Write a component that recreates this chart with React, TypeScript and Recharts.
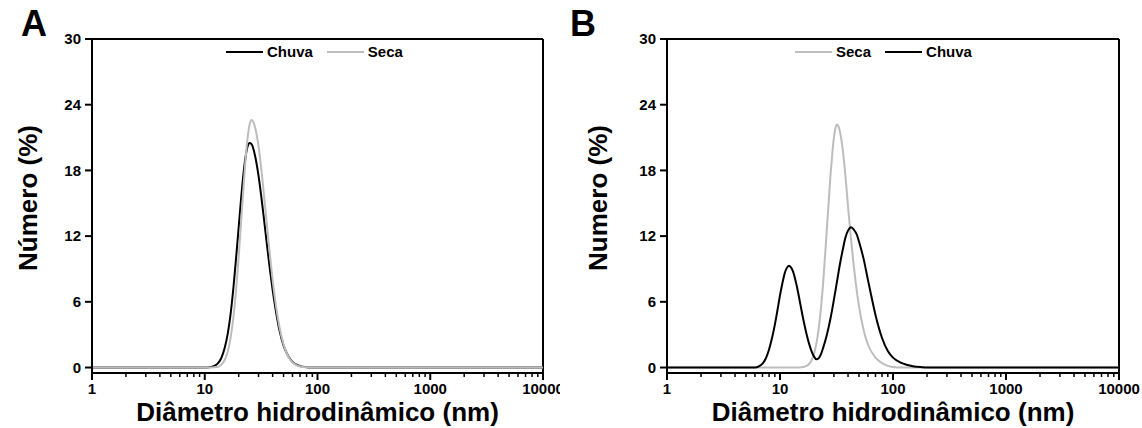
import React from "react"
import { LineChart, Line, XAxis, YAxis, ReferenceLine } from "recharts"

// hydrodynamic diameter (nm) and number distribution (%)
const aChuvaX = [1, 10, 11, 12, 12.5, 13, 14, 15, 16, 17, 18, 19, 20, 21, 22, 23, 24, 25, 26, 28, 30, 32, 34, 36, 38, 40, 43, 46, 50, 55, 60, 70, 80, 90, 100, 1000, 10000]
const aChuvaY = [0, 0, 0.02, 0.13, 0.22, 0.36, 0.85, 1.75, 3.1, 5.0, 7.4, 10.1, 12.8, 15.4, 17.6, 19.2, 20.2, 20.5, 20.4, 19.3, 17.5, 15.3, 13.0, 10.8, 8.8, 7.1, 5.0, 3.4, 2.0, 1.05, 0.5, 0.13, 0.03, 0, 0, 0, 0]

const aSecaX = [1, 10, 13, 14, 15, 16, 17, 18, 19, 20, 21, 22, 23, 24, 25, 26, 27, 28, 30, 32, 34, 36, 38, 40, 43, 46, 50, 55, 60, 70, 80, 90, 100, 1000, 10000]
const aSecaY = [0, 0, 0.05, 0.26, 0.66, 1.46, 2.8, 4.7, 7.2, 10.1, 13.3, 16.3, 19.0, 21.0, 22.2, 22.6, 22.4, 21.9, 20.2, 17.8, 15.1, 12.5, 10.1, 8.0, 5.5, 3.7, 2.1, 1.0, 0.46, 0.1, 0.02, 0, 0, 0, 0]

const bSecaX = [1, 10, 15, 16, 17, 18, 19, 20, 21, 22, 23, 24, 25, 26, 27, 28, 29, 30, 31, 32, 33, 34, 36, 38, 40, 42, 44, 47, 50, 55, 60, 70, 80, 90, 100, 120, 1000, 10000]
const bSecaY = [0, 0, 0, 0.04, 0.12, 0.3, 0.64, 1.25, 2.2, 3.55, 5.35, 7.5, 10.1, 12.7, 15.2, 17.6, 19.5, 21.0, 21.9, 22.2, 22.0, 21.5, 19.8, 17.4, 14.7, 12.3, 10.2, 7.6, 5.6, 3.4, 2.1, 0.9, 0.4, 0.15, 0.05, 0, 0, 0]

const bChuvaX = [1, 6, 6.5, 7, 7.5, 8, 8.5, 9, 9.5, 10, 10.5, 11, 11.5, 12, 12.5, 13, 14, 15, 16, 17, 18, 19, 20, 21, 22, 23, 24, 26, 28, 30, 32, 34, 36, 38, 40, 42.5, 45, 48, 50, 55, 60, 65, 70, 80, 90, 100, 120, 150, 180, 200, 1000, 10000]
const bChuvaY = [0, 0, 0.1, 0.35, 0.85, 1.65, 2.7, 3.9, 5.25, 6.6, 7.7, 8.6, 9.1, 9.3, 9.15, 8.8, 7.55, 6.0, 4.5, 3.25, 2.25, 1.5, 1.0, 0.75, 0.85, 1.2, 1.75, 3.0, 4.5, 6.2, 7.9, 9.5, 10.8, 11.9, 12.5, 12.8, 12.6, 12.1, 11.5, 9.9, 8.0, 6.3, 4.8, 2.7, 1.5, 0.9, 0.4, 0.12, 0.03, 0, 0, 0]

const majorTicks = [1, 10, 100, 1000, 10000]
const minorFactors = [2, 3, 4, 5, 6, 7, 8, 9]
const yTicks = [0, 6, 12, 18, 24, 30]

const xTicks = majorTicks.flatMap((m) => (m === 10000 ? [m] : [m, ...minorFactors.map((f) => m * f)]))

const zip = (xs: number[], ys: number[]) => xs.map((x, i) => ({ x, y: ys[i] }))

const BLACK = "#000000"
const GRAY = "#bdbdbd"
const FONT = "'Liberation Sans', Arial, sans-serif"

type Series = { name: string; color: string; data: { x: number; y: number }[] }

const XTick = (props: any) => {
    const { x, y, payload } = props
    const major = majorTicks.includes(payload.value)
    return (
        <g>
            <line x1={x} x2={x} y1={y} y2={y + (major ? 7 : 4)} stroke="#000" strokeWidth={major ? 2 : 1.5} />
            {major && (
                <text x={x} y={y + 21} textAnchor="middle" fontSize={15} fontWeight="bold" fontFamily={FONT} fill="#000">
                    {payload.value}
                </text>
            )}
        </g>
    )
}

function Panel(props: {
    left: number
    width: number
    yAxisWidth: number
    marginRight: number
    letter: string
    letterLeft: number
    yTitle: string
    yTitleX: number
    legendLeft: number
    series: Series[]
}) {
    const { left, width, yAxisWidth, marginRight, series } = props
    const plotLeft = yAxisWidth
    const plotRight = width - marginRight
    return (
        <div style={{ position: "absolute", left, top: 0, width, height: 428 }}>
            <LineChart width={width} height={428} margin={{ top: 39, right: marginRight, bottom: 0, left: 0 }}>
                <XAxis
                    dataKey="x"
                    type="number"
                    scale="log"
                    domain={[1, 10000]}
                    allowDataOverflow
                    ticks={xTicks}
                    interval={0}
                    height={55}
                    tickSize={0}
                    tickMargin={0}
                    tickLine={false}
                    axisLine={{ stroke: "#000", strokeWidth: 2 }}
                    tick={XTick}
                />
                <YAxis
                    type="number"
                    domain={[-0.5, 30]}
                    allowDataOverflow
                    ticks={yTicks}
                    interval={0}
                    width={yAxisWidth}
                    tickSize={7}
                    tickMargin={4}
                    tickLine={{ stroke: "#000", strokeWidth: 2 }}
                    axisLine={{ stroke: "#000", strokeWidth: 2 }}
                    tick={{ fill: "#000", fontSize: 15, fontWeight: "bold", fontFamily: FONT }}
                />
                <ReferenceLine y={30} stroke="#000" strokeWidth={2} />
                <ReferenceLine x={10000} stroke="#000" strokeWidth={2} />
                {series.map((s) => (
                    <Line
                        key={s.name}
                        data={s.data}
                        dataKey="y"
                        name={s.name}
                        type="monotone"
                        stroke={s.color}
                        strokeWidth={2}
                        dot={false}
                        activeDot={false}
                        isAnimationActive={false}
                    />
                ))}
            </LineChart>

            {/* panel letter */}
            <div style={{ position: "absolute", left: props.letterLeft, top: 4, fontFamily: FONT, fontWeight: "bold", fontSize: 36, lineHeight: "40px" }}>
                {props.letter}
            </div>

            {/* legend */}
            <div style={{ position: "absolute", left: props.legendLeft, top: 43, display: "flex", alignItems: "center", fontFamily: FONT, fontWeight: "bold", fontSize: 15, lineHeight: "18px" }}>
                {series.map((s) => (
                    <div key={s.name} style={{ display: "flex", alignItems: "center", marginRight: 14 }}>
                        <span style={{ display: "inline-block", width: 37, height: 2, background: s.color, marginRight: 4 }} />
                        <span>{s.name}</span>
                    </div>
                ))}
            </div>

            {/* y title */}
            <div
                style={{
                    position: "absolute",
                    left: props.yTitleX,
                    top: 198,
                    transform: "translate(-50%, -50%) rotate(-90deg)",
                    whiteSpace: "nowrap",
                    fontFamily: FONT,
                    fontWeight: "bold",
                    fontSize: 26,
                    lineHeight: "28px",
                }}
            >
                {props.yTitle}
            </div>

            {/* x title */}
            <div
                style={{
                    position: "absolute",
                    left: (plotLeft + plotRight) / 2,
                    top: 412,
                    transform: "translate(-50%, -50%)",
                    whiteSpace: "nowrap",
                    fontFamily: FONT,
                    fontWeight: "bold",
                    fontSize: 26,
                    lineHeight: "28px",
                }}
            >
                Diâmetro hidrodinâmico (nm)
            </div>
        </div>
    )
}

export default function App() {
    const seriesA: Series[] = [
        { name: "Chuva", color: BLACK, data: zip(aChuvaX, aChuvaY) },
        { name: "Seca", color: GRAY, data: zip(aSecaX, aSecaY) },
    ]
    const seriesB: Series[] = [
        { name: "Seca", color: GRAY, data: zip(bSecaX, bSecaY) },
        { name: "Chuva", color: BLACK, data: zip(bChuvaX, bChuvaY) },
    ]
    return (
        <div style={{ position: "absolute", left: 0, top: 0, width: 1142, height: 428, background: "#fff", overflow: "hidden" }}>
            <Panel
                left={0}
                width={560}
                yAxisWidth={92}
                marginRight={17}
                letter="A"
                letterLeft={21}
                yTitle="Número (%)"
                yTitleX={28}
                legendLeft={226}
                series={seriesA}
            />
            <Panel
                left={570}
                width={572}
                yAxisWidth={97}
                marginRight={23}
                letter="B"
                letterLeft={0}
                yTitle="Numero (%)"
                yTitleX={28}
                legendLeft={225}
                series={seriesB}
            />
        </div>
    )
}
